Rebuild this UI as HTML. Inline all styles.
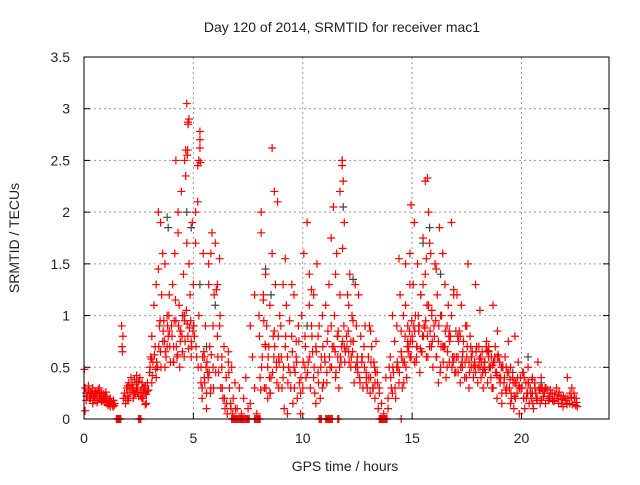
<!DOCTYPE html>
<html><head><meta charset="utf-8"><style>
body{margin:0;background:#fff;}
svg text{font-family:"Liberation Sans",sans-serif;fill:#222;}
</style></head><body>
<svg id="chart" width="640" height="480" xmlns="http://www.w3.org/2000/svg">
<text x="342" y="32" font-size="14" text-anchor="middle">Day 120 of 2014, SRMTID for receiver mac1</text>
<text x="345" y="471" font-size="14" text-anchor="middle">GPS time / hours</text>
<text x="19" y="238" font-size="14" text-anchor="middle" transform="rotate(-90 19 238)">SRMTID / TECUs</text>
<g id="grid"></g>
<g id="ticks"></g>
<g id="grey"></g>
<g id="red"></g>
<rect x="84" y="57" width="525" height="362" fill="none" stroke="#000" stroke-width="1"/>
</svg>
<script>
const xTicks=[0,5,10,15,20];
const yTicks=[0,0.5,1,1.5,2,2.5,3,3.5];
const yTickLabels=["0","0.5","1","1.5","2","2.5","3","3.5"];
const redTimes=[0.05,0.1,0.15,0.2,0.25,0.3,0.35,0.4,0.45,0.5,0.55,0.6,0.65,0.7,0.75,0.8,0.85,0.9,0.95,1.0,1.05,1.1,1.15,1.2,1.25,1.3,1.35,1.4,0.1,0.2,0.3,0.4,0.5,0.6,0.7,0.8,0.9,1.0,1.1,1.2,0.02,0.05,
1.72,1.74,1.76,1.78,1.8,1.85,1.9,1.95,2.0,2.05,2.1,2.15,2.2,2.25,2.3,2.35,2.4,2.45,2.5,2.55,2.6,2.65,2.7,2.75,2.8,2.85,2.9,2.95,2.0,2.2,2.4,2.6,2.8,
3.0,3.05,3.1,3.15,3.2,3.25,3.3,3.35,3.4,3.45,3.5,3.55,3.6,3.65,3.7,3.75,3.8,3.85,3.9,3.95,3.1,3.3,3.5,3.7,3.9,3.4,3.6,3.8,
4.0,4.05,4.1,4.15,4.2,4.25,4.3,4.35,4.4,4.45,4.5,4.55,4.6,4.65,4.7,4.75,4.8,4.85,4.9,4.95,4.1,4.3,4.5,4.6,4.7,4.75,4.8,4.9,4.2,4.4,4.65,4.72,4.74,4.76,
5.0,5.05,5.1,5.15,5.2,5.25,5.3,5.35,5.4,5.45,5.5,5.55,5.6,5.65,5.7,5.75,5.8,5.85,5.9,5.95,5.1,5.2,5.3,5.4,5.5,5.6,5.7,5.8,5.9,5.25,5.3,5.32,5.35,
6.0,6.05,6.1,6.15,6.2,6.25,6.3,6.35,6.4,6.45,6.5,6.55,6.6,6.65,6.7,6.75,6.8,6.9,7.0,7.1,7.2,7.3,7.4,7.5,7.6,7.7,7.8,7.9,6.1,6.2,6.3,6.6,7.6,7.8,
8.0,8.05,8.1,8.15,8.2,8.25,8.3,8.35,8.4,8.45,8.5,8.55,8.6,8.65,8.7,8.75,8.8,8.85,8.9,8.95,8.1,8.3,8.5,8.6,8.7,8.9,8.2,8.4,8.8,
9.0,9.05,9.1,9.15,9.2,9.25,9.3,9.35,9.4,9.45,9.5,9.55,9.6,9.65,9.7,9.75,9.8,9.85,9.9,9.95,9.1,9.3,9.5,9.7,9.9,9.2,9.6,
10.0,10.05,10.1,10.15,10.2,10.25,10.3,10.35,10.4,10.45,10.5,10.55,10.6,10.65,10.7,10.75,10.8,10.85,10.9,10.95,10.1,10.3,10.5,10.7,10.9,10.4,10.6,
11.0,11.05,11.1,11.15,11.2,11.25,11.3,11.35,11.4,11.45,11.5,11.55,11.6,11.65,11.7,11.75,11.8,11.85,11.9,11.95,11.1,11.3,11.5,11.7,11.8,11.82,11.9,11.6,
12.0,12.05,12.1,12.15,12.2,12.25,12.3,12.35,12.4,12.45,12.5,12.55,12.6,12.65,12.7,12.75,12.8,12.85,12.9,12.95,12.1,12.3,12.5,12.7,12.9,12.2,
13.0,13.05,13.1,13.15,13.2,13.25,13.3,13.35,13.4,13.45,13.5,13.6,13.7,13.8,13.9,13.95,13.1,13.3,13.5,13.9,
14.0,14.05,14.1,14.15,14.2,14.25,14.3,14.35,14.4,14.45,14.5,14.55,14.6,14.65,14.7,14.75,14.8,14.85,14.9,14.95,14.1,14.3,14.5,14.7,14.9,14.4,14.8,14.9,14.95,
15.0,15.05,15.1,15.15,15.2,15.25,15.3,15.35,15.4,15.45,15.5,15.55,15.6,15.65,15.7,15.75,15.8,15.85,15.9,15.95,15.1,15.3,15.5,15.6,15.65,15.7,15.8,15.9,15.2,15.4,15.75,
16.0,16.05,16.1,16.15,16.2,16.25,16.3,16.35,16.4,16.45,16.5,16.55,16.6,16.65,16.7,16.75,16.8,16.85,16.9,16.95,16.1,16.3,16.5,16.6,16.7,16.9,16.2,16.4,16.8,
17.0,17.05,17.1,17.15,17.2,17.25,17.3,17.35,17.4,17.45,17.5,17.55,17.6,17.65,17.7,17.75,17.8,17.85,17.9,17.95,17.1,17.3,17.5,17.7,17.9,17.2,17.6,
18.0,18.05,18.1,18.15,18.2,18.25,18.3,18.35,18.4,18.45,18.5,18.55,18.6,18.65,18.7,18.75,18.8,18.85,18.9,18.95,18.1,18.3,18.5,18.7,18.9,18.85,18.88,
19.0,19.05,19.1,19.15,19.2,19.25,19.3,19.35,19.4,19.45,19.5,19.55,19.6,19.65,19.7,19.75,19.8,19.85,19.9,19.95,19.1,19.3,19.5,19.7,19.9,
20.0,20.05,20.1,20.15,20.2,20.25,20.3,20.35,20.4,20.45,20.5,20.55,20.6,20.65,20.7,20.75,20.8,20.85,20.9,20.95,20.1,20.3,20.5,20.7,20.9,
21.0,21.1,21.2,21.3,21.4,21.5,21.6,21.7,21.8,21.9,22.0,22.1,22.2,22.3,22.4,22.5,22.55,21.05,21.25,21.45,21.65,21.85,22.05,22.25,22.45];
const redValues=[0.3,0.25,0.22,0.28,0.2,0.26,0.24,0.3,0.22,0.18,0.25,0.2,0.28,0.22,0.2,0.25,0.18,0.22,0.2,0.16,0.2,0.14,0.18,0.12,0.16,0.14,0.18,0.15,0.18,0.32,0.2,0.15,0.27,0.16,0.3,0.17,0.24,0.26,0.13,0.2,0.48,0.08,
0.9,0.7,0.65,0.8,0.2,0.25,0.15,0.3,0.22,0.35,0.28,0.4,0.3,0.2,0.38,0.25,0.35,0.3,0.22,0.4,0.28,0.35,0.2,0.3,0.25,0.15,0.35,0.28,0.18,0.3,0.42,0.26,0.14,
0.45,0.6,0.8,0.55,1.1,0.7,1.3,0.5,1.45,0.9,0.65,1.2,0.75,0.95,1.5,0.6,1.0,0.8,1.2,0.55,0.35,0.4,1.9,0.5,0.85,2.0,1.6,0.7,
0.9,1.3,0.7,1.6,0.95,0.6,1.8,1.1,0.85,2.2,0.65,1.4,0.95,2.6,1.7,0.8,2.9,1.2,0.75,1.9,0.55,2.0,1.0,2.5,3.05,2.87,1.5,0.6,2.5,0.75,2.35,2.55,2.6,2.85,
1.3,0.8,2.0,0.6,2.45,1.0,2.7,0.5,0.3,1.6,0.6,0.9,0.25,0.45,1.3,0.7,0.3,1.8,0.5,1.2,1.7,2.1,2.78,0.2,0.4,0.1,1.5,1.6,0.9,2.5,2.62,2.48,0.35,
1.7,1.25,0.8,0.45,1.55,0.3,0.6,0.2,0.7,0.1,0.4,0.05,0.55,0.3,0.15,0.5,0.05,0.35,0.1,0.3,0.05,0.2,0.4,0.1,0.15,0.6,0.3,0.05,1.3,0.9,0.5,0.65,0.9,1.2,
1.0,0.4,1.8,0.6,1.2,0.3,1.4,0.9,0.5,0.7,1.1,0.4,2.62,0.8,2.2,1.3,0.5,2.1,0.3,1.0,2.0,0.7,0.25,1.6,0.85,0.6,1.15,0.2,0.55,
0.9,0.3,1.3,0.1,0.7,1.1,0.05,0.5,0.95,0.3,0.8,0.15,1.2,0.45,0.6,0.2,0.9,0.35,0.05,1.0,0.4,0.6,1.3,0.75,0.25,1.55,0.5,
0.3,1.6,0.8,0.4,1.9,0.55,1.1,0.3,0.9,0.65,1.2,0.25,0.7,1.5,0.45,0.9,0.2,0.6,1.0,0.35,0.5,1.4,0.4,0.8,0.3,1.25,0.15,
0.6,1.1,0.35,0.85,1.3,0.5,1.75,0.7,2.05,1.0,0.4,1.6,0.8,0.3,1.2,0.55,2.5,2.3,1.9,0.65,0.45,0.9,1.4,2.2,2.45,1.65,0.7,0.6,
0.8,1.2,0.65,1.4,0.5,1.0,0.75,0.35,1.3,0.9,0.6,1.2,0.4,0.8,0.55,0.3,0.7,0.9,0.45,0.3,1.1,0.95,0.5,0.6,0.35,0.75,
0.6,0.9,0.4,0.7,0.3,0.55,0.2,0.75,0.45,0.1,0.3,0.15,0.05,0.4,0.2,0.5,0.85,0.35,0.25,0.1,
0.6,0.3,1.0,0.45,0.75,0.2,0.9,0.5,0.35,1.2,0.65,0.3,1.0,0.55,1.5,0.4,0.9,0.7,1.3,0.6,0.25,0.5,0.85,1.1,0.6,1.55,0.75,1.6,2.07,
0.8,1.3,0.55,1.0,0.7,1.5,0.9,0.45,1.2,0.65,1.75,0.9,1.4,0.6,2.33,1.1,0.7,1.6,1.0,0.5,1.9,0.85,1.3,2.3,1.55,0.8,1.7,1.05,0.6,1.2,2.0,
0.9,1.5,0.6,1.2,0.75,1.85,0.5,1.0,1.6,0.7,1.3,0.4,0.9,1.1,0.55,0.8,1.9,0.6,1.2,0.45,1.45,1.0,0.7,0.5,0.85,1.25,0.35,
0.7,1.0,0.45,1.2,0.6,0.85,0.35,1.1,0.5,0.75,0.4,0.9,0.6,1.5,0.3,0.8,0.5,0.65,0.4,0.55,1.3,0.7,0.45,0.6,0.9,
0.6,0.45,0.8,0.55,0.35,0.7,0.5,0.4,0.65,0.3,0.55,0.45,0.75,0.35,0.6,0.5,0.4,0.3,1.1,0.55,0.7,0.45,0.85,0.6,1.05,
0.5,0.7,0.3,0.6,0.45,0.2,0.55,0.4,0.15,0.5,0.35,0.6,0.25,0.45,0.75,0.3,0.5,0.2,0.4,0.1,0.8,0.35,0.25,0.55,0.3,
0.4,0.25,0.5,0.15,0.35,0.05,0.3,0.45,0.2,0.1,0.35,0.25,0.5,0.15,0.3,0.2,0.4,0.1,0.35,0.25,0.2,0.55,0.3,0.15,0.4,
0.3,0.2,0.35,0.25,0.18,0.3,0.22,0.15,0.28,0.2,0.25,0.18,0.3,0.15,0.22,0.12,0.2,0.4,0.15,0.3,0.25,0.2,0.12,0.25,0.18];
const extraTimes=[0.12,0.22,0.32,0.42,0.52,0.62,0.72,0.82,0.92,1.02,1.12,1.22,1.32,1.38,
1.9,2.0,2.1,2.2,2.3,2.4,2.5,2.6,2.7,2.8,2.9,2.05,2.25,2.45,2.65,2.85,
3.02,3.12,3.22,3.32,3.42,3.52,3.62,3.72,3.82,3.92,3.08,3.28,3.48,3.68,3.88,
4.02,4.12,4.22,4.32,4.42,4.52,4.62,4.72,4.82,4.92,4.08,4.28,4.48,4.68,4.88,4.18,4.38,4.58,4.78,4.98,
5.02,5.12,5.22,5.42,5.52,5.62,5.72,5.82,5.92,5.48,5.58,5.68,5.78,
6.02,6.12,6.22,6.32,6.42,6.52,6.62,6.72,6.82,6.92,
8.02,8.12,8.22,8.32,8.42,8.52,8.62,8.72,8.82,8.92,8.08,8.28,8.48,8.68,8.88,
9.02,9.12,9.22,9.32,9.42,9.52,9.62,9.72,9.82,9.92,
10.02,10.12,10.22,10.32,10.42,10.52,10.62,10.72,10.82,10.92,
11.02,11.12,11.22,11.32,11.42,11.52,11.62,11.72,11.82,11.92,11.48,11.58,11.68,11.78,11.88,
12.02,12.12,12.22,12.32,12.42,12.52,12.62,12.72,12.82,12.92,12.08,12.28,12.48,
13.02,13.12,13.22,13.32,13.42,13.08,13.28,
14.02,14.12,14.22,14.32,14.42,14.52,14.62,14.72,14.82,14.92,14.58,14.68,14.78,14.88,14.98,
15.02,15.12,15.22,15.32,15.42,15.52,15.62,15.72,15.82,15.92,15.08,15.28,15.48,15.68,15.88,15.18,15.38,15.58,
16.02,16.12,16.22,16.32,16.42,16.52,16.62,16.72,16.82,16.92,16.08,16.28,16.48,16.68,16.88,
17.02,17.12,17.22,17.32,17.42,17.52,17.62,17.72,17.82,17.92,17.08,17.28,17.48,17.68,17.88,
18.02,18.12,18.22,18.32,18.42,18.52,18.62,18.72,18.82,18.92,18.08,18.28,18.48,18.68,18.88,18.18,18.38,18.58,18.78,18.98,
19.02,19.12,19.22,19.32,19.42,19.52,19.62,19.72,19.82,19.92,19.08,19.28,19.48,19.68,19.88,
20.02,20.12,20.22,20.32,20.42,20.52,20.62,20.72,20.82,20.92,20.08,20.28,20.48,20.68,20.88,
21.02,21.12,21.22,21.32,21.42,21.52,21.62,21.72,21.82,21.92,22.02,22.12,22.22,22.32,22.42,22.52,21.08,21.28,21.48,21.68,21.88,22.08,22.28,22.48];
const extraValues=[0.22,0.28,0.25,0.2,0.24,0.18,0.26,0.2,0.17,0.22,0.16,0.15,0.12,0.13,
0.2,0.32,0.26,0.33,0.24,0.28,0.36,0.22,0.3,0.32,0.27,0.2,0.3,0.25,0.2,0.24,
0.5,0.42,0.62,0.55,0.7,0.5,0.85,0.65,0.9,0.7,0.58,0.48,0.95,0.75,1.0,
0.8,0.95,0.7,0.9,0.85,1.0,0.75,0.92,0.88,0.7,0.55,0.62,0.8,1.05,0.95,1.15,0.5,0.6,0.68,0.85,
0.9,0.7,0.5,0.6,0.35,0.55,0.45,0.62,0.3,0.65,0.5,0.4,0.25,
0.45,0.6,1.0,0.3,0.2,0.15,0.45,0.1,0.2,0.1,
0.8,0.5,0.95,0.3,0.6,0.25,0.45,0.7,0.35,0.55,0.28,0.72,0.4,0.6,0.8,
0.6,0.5,0.8,0.35,0.45,0.65,0.3,0.55,0.75,0.4,
0.55,0.7,0.45,0.6,0.8,0.5,0.65,0.35,0.5,0.7,
0.55,0.75,0.6,0.5,0.7,0.45,0.85,0.6,0.75,0.55,0.65,0.8,0.5,0.7,0.9,
0.7,0.55,0.6,0.75,0.5,0.45,0.35,0.6,0.5,0.4,0.85,0.65,0.55,
0.4,0.55,0.3,0.45,0.35,0.25,0.5,
0.4,0.5,0.3,0.55,0.45,0.6,0.35,0.5,0.65,0.75,0.55,0.8,0.7,0.85,0.95,
0.75,0.85,0.7,0.9,0.65,0.8,0.95,0.6,0.85,0.75,0.9,1.0,0.8,1.1,0.7,0.55,0.68,0.88,
0.8,0.6,0.9,0.7,0.55,0.85,0.65,0.75,0.5,0.6,0.95,0.45,0.7,0.8,0.55,
0.6,0.75,0.5,0.65,0.55,0.7,0.45,0.6,0.5,0.65,0.8,0.55,0.4,0.7,0.52,
0.5,0.6,0.45,0.55,0.65,0.5,0.6,0.55,0.45,0.62,0.58,0.48,0.66,0.52,0.42,0.55,0.7,0.5,0.6,0.4,
0.35,0.5,0.4,0.3,0.45,0.25,0.35,0.2,0.4,0.3,0.5,0.28,0.38,0.22,0.32,
0.3,0.4,0.2,0.35,0.25,0.15,0.3,0.2,0.28,0.18,0.45,0.25,0.38,0.2,0.3,
0.25,0.3,0.2,0.28,0.18,0.24,0.2,0.26,0.15,0.22,0.18,0.2,0.25,0.14,0.2,0.16,0.3,0.22,0.17,0.23,0.19,0.14,0.21,0.13];
const zeroTimes=[1.48,1.52,1.56,1.6,1.64,1.68,2.5,2.55,2.6,6.75,6.8,6.85,6.9,6.95,7.0,7.05,7.1,7.15,7.2,7.25,7.3,7.35,7.4,7.45,7.5,7.55,7.8,7.85,7.9,7.95,8.0,8.05,10.75,10.8,10.85,11.05,11.1,11.15,11.2,11.25,11.3,11.35,11.6,11.65,13.5,13.55,13.6,13.65,13.7,13.75,13.8,13.85,14.5];
const zeroValues=[0,0,0,0,0,0,0,0,0,0,0,0,0,0,0,0,0,0,0,0,0,0,0,0,0,0,0,0,0,0,0,0,0,0,0,0,0,0,0,0,0,0,0,0,0,0,0,0,0,0,0,0,0];
const greyTimes=[3.8,3.85,4.6,4.7,4.9,5.0,5.3,5.6,6.0,8.3,8.55,10.2,11.8,11.85,12.3,15.5,15.8,16.3,17.0,18.5,19.6,20.3,20.9];
const greyValues=[1.95,1.85,1.0,2.0,1.85,0.9,1.3,0.7,1.1,1.45,1.2,0.9,2.5,2.05,1.35,1.7,1.85,1.4,0.85,0.65,0.45,0.6,0.35];
const NS='http://www.w3.org/2000/svg';
const X0=84,X1=609,Y0=419,Y1=57,XMAX=24,YMAX=3.5;
function xs(t){return X0+(X1-X0)*t/XMAX;}
function ys(v){return Y0-(Y0-Y1)*v/YMAX;}
const grid=document.getElementById('grid'),ticks=document.getElementById('ticks');
function mk(tag,attrs,parent){const e=document.createElementNS(NS,tag);for(const k in attrs)e.setAttribute(k,attrs[k]);parent.appendChild(e);return e;}
xTicks.forEach((t,i)=>{
  const x=xs(t);
  if(t>0){const g=mk('line',{x1:x,x2:x,y1:Y1,y2:Y0,stroke:'#999','stroke-dasharray':'2,3'},grid);
  
  }
  const tk=mk('line',{x1:x,x2:x,y1:Y0,y2:Y0-6,stroke:'#000'},ticks);
  
  
  const lb=mk('text',{x:x,y:Y0+24,'font-size':14,'text-anchor':'middle'},ticks);lb.textContent=String(t);
  
  
});
yTicks.forEach((v,i)=>{
  const y=ys(v);
  if(v>0&&v<YMAX){const g=mk('line',{x1:X0,x2:X1,y1:y,y2:y,stroke:'#999','stroke-dasharray':'2,3'},grid);
  
  }
  const tk=mk('line',{x1:X0,x2:X0+6,y1:y,y2:y,stroke:'#000'},ticks);
  
  
  const tk2=mk('line',{x1:X1,x2:X1-6,y1:y,y2:y,stroke:'#000'},ticks);
  
  
  const lb=mk('text',{x:X0-14,y:y+5,'font-size':14,'text-anchor':'end'},ticks);lb.textContent=yTickLabels[i];
  
  
});
function plus(parent,t,v,col,name){
  const x=xs(t),y=ys(v);
  const p=mk('path',{d:`M${x-4},${y}H${x+4}M${x},${y-4}V${y+4}`,stroke:col,'stroke-width':1.2,fill:'none'},parent);
  
  
}
const grey=document.getElementById('grey'),red=document.getElementById('red');
greyTimes.forEach((t,i)=>plus(grey,t,greyValues[i],'#444','grey-point'));
redTimes.forEach((t,i)=>plus(red,t,redValues[i],'#f00','red-point'));
extraTimes.forEach((t,i)=>plus(red,t,extraValues[i],'#f00','red-point'));
zeroTimes.forEach((t,i)=>plus(red,t,zeroValues[i],'#f00','red-point-zero'));
</script>
</body></html>
